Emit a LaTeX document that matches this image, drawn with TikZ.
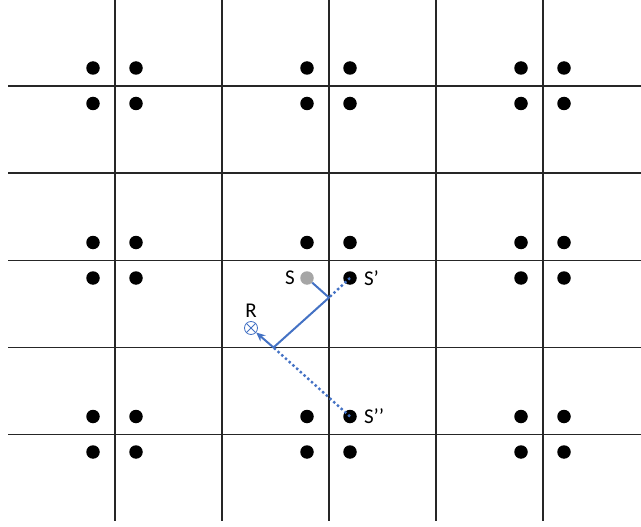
\documentclass[tikz,border=0pt]{standalone}
\usepackage{fontspec}
\setmainfont{Carlito}
\usetikzlibrary{arrows.meta,positioning}
\definecolor{rayblue}{RGB}{68,114,196}
\definecolor{srcgray}{RGB}{166,166,166}

\begin{document}
\begin{tikzpicture}[>=Stealth, x=1pt, y=-1pt,
    wall/.style={line width=1.2pt, black!85},
    src/.style={circle, fill=black, minimum size=13.5pt, inner sep=0pt},
    lbl/.style={inner sep=0pt, font=\fontsize{21}{24}\selectfont},
    ray/.style={line width=2pt, rayblue},
    mirror/.style={line width=2.4pt, rayblue, dash pattern=on 2.4pt off 2.6pt}]
  \useasboundingbox (0,0) rectangle (641,527);
  % ================================================================== walls
  \foreach \x in {115,222,329,436,543} \draw[wall] (\x,0) -- (\x,521);
  \foreach \y in {86,173,260.5,347.5,434.5} \draw[wall] (8,\y) -- (641,\y);
  % ================================================================== image sources
  \foreach \cx [count=\i] in {115,329,543}
    \foreach \cy [count=\j] in {86,260.5,434.5}
      \foreach \dx/\dy [count=\k] in {-22/-18,21/-18,-22/17.5,21/17.5}
        {\ifnum\i\j\k=223 \else \node[src] (d\i\j\k) at (\cx+\dx,\cy+\dy) {}; \fi}
  \node[src, fill=srcgray] (S) at (307,278) {};
  \node[lbl, left=5pt of S] (Slbl) {S};
  \node[lbl, right=7pt of d224] (S1lbl) {S\textquoteright};
  \node[lbl, right=7pt of d232] (S2lbl) {S\textquoteright\textquoteright};
  % ================================================================== receiver
  \node[circle, draw=rayblue, line width=0.8pt, minimum size=13pt, inner sep=0pt] (R) at (251,328) {};
  \draw[rayblue, line width=0.8pt] (R.45) -- (R.225) (R.135) -- (R.315);
  \node[lbl, above=3pt of R] (Rlbl) {R};
  % ================================================================== reflected path
  \coordinate (P1) at (329,297.6);
  \coordinate (P2) at (273.5,347.5);
  \draw[mirror] (d224.center) -- (P1);
  \draw[mirror] (d232.center) -- (P2);
  \draw[ray, -{Stealth[length=9pt,width=8pt]}, line join=round] (S) -- (P1) -- (P2) -- (R);
\end{tikzpicture}
\end{document}
